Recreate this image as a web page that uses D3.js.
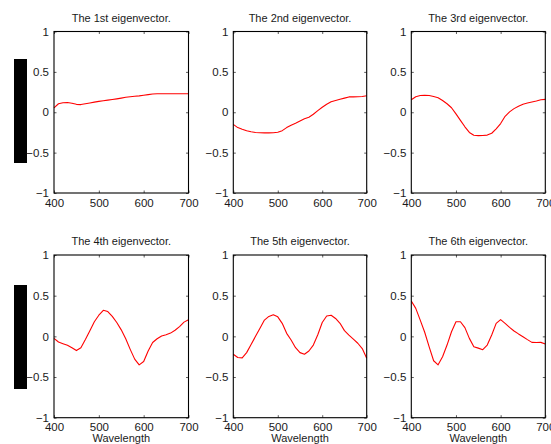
<!DOCTYPE html>
<html>
<head>
<meta charset="utf-8">
<script src="https://cdn.jsdelivr.net/npm/d3@7"></script>
<style>
  html, body { margin: 0; padding: 0; background: #fff; }
  svg { display: block; }
  text { font-family: "Liberation Sans", Arial, Helvetica, sans-serif; fill: #1a1a1a; }
</style>
</head>
<body>
<svg id="chart" width="551" height="444"></svg>
<script>
// Wavelength grid (nm), sampled every 10 nm
const wavelengths = [400,410,420,430,440,450,460,470,480,490,500,510,520,530,540,550,
                     560,570,580,590,600,610,620,630,640,650,660,670,680,690,700];

// Eigenvector components at each wavelength
const ev1 = [0.055,0.105,0.118,0.12,0.112,0.098,0.095,0.105,0.115,0.125,0.135,0.142,0.15,0.158,0.166,0.175,
             0.185,0.192,0.198,0.203,0.21,0.218,0.226,0.229,0.229,0.229,0.229,0.229,0.229,0.229,0.229];
const ev2 = [-0.15,-0.19,-0.21,-0.228,-0.242,-0.25,-0.254,-0.255,-0.255,-0.254,-0.248,-0.228,-0.19,-0.16,-0.135,-0.108,
             -0.08,-0.062,-0.025,0.02,0.062,0.1,0.13,0.145,0.16,0.175,0.19,0.19,0.192,0.195,0.205];
const ev3 = [0.155,0.192,0.208,0.21,0.208,0.195,0.18,0.145,0.105,0.056,-0.02,-0.1,-0.18,-0.25,-0.285,-0.29,
             -0.287,-0.283,-0.26,-0.205,-0.14,-0.05,0.005,0.045,0.075,0.1,0.115,0.128,0.14,0.155,0.16];
const ev4 = [-0.025,-0.07,-0.09,-0.11,-0.14,-0.175,-0.14,-0.04,0.07,0.18,0.26,0.32,0.305,0.245,0.17,0.08,
             -0.03,-0.16,-0.28,-0.35,-0.31,-0.18,-0.075,-0.03,0.005,0.02,0.04,0.075,0.12,0.175,0.205];
const ev5 = [-0.22,-0.26,-0.265,-0.2,-0.1,0.0,0.1,0.2,0.245,0.265,0.24,0.16,0.037,-0.045,-0.14,-0.2,
             -0.22,-0.18,-0.107,0.02,0.17,0.25,0.26,0.22,0.16,0.07,0.015,-0.035,-0.085,-0.15,-0.27];
const ev6 = [0.434,0.344,0.2,0.05,-0.13,-0.3,-0.35,-0.25,-0.107,0.057,0.18,0.18,0.107,-0.025,-0.127,-0.145,
             -0.164,-0.107,0.016,0.16,0.205,0.16,0.11,0.066,0.03,-0.004,-0.04,-0.074,-0.075,-0.074,-0.094];

const titles = ["The 1st eigenvector.","The 2nd eigenvector.","The 3rd eigenvector.",
                "The 4th eigenvector.","The 5th eigenvector.","The 6th eigenvector."];
const seriesList = [ev1, ev2, ev3, ev4, ev5, ev6];

const xTicks = [400, 500, 600, 700];
const yTicks = [-1, -0.5, 0, 0.5, 1];

// Panel frames [left, right] per column and [top, bottom] per row
const cols = [[54, 188.5], [233.3, 366.7], [411.3, 545.3]];
const rows = [[31.5, 193], [255, 417.7]];

const svg = d3.select("#chart");

// Black blocks to the left of each row
rows.forEach(([t, b], r) => {
  svg.append("rect")
    .attr("x", 14).attr("y", r === 0 ? 59 : 285)
    .attr("width", 13).attr("height", 104)
    .attr("fill", "#000");
});

seriesList.forEach((vals, i) => {
  const r = Math.floor(i / 3), c = i % 3;
  const [x0, x1] = cols[c];
  const [y0, y1] = rows[r];

  const x = d3.scaleLinear().domain([400, 700]).range([x0, x1]);
  const y = d3.scaleLinear().domain([-1, 1]).range([y1, y0]);

  const g = svg.append("g");

  // Bottom axis with labels, inward ticks
  const bottom = g.append("g").attr("transform", `translate(0,${y1})`)
    .call(d3.axisBottom(x).tickValues(xTicks).tickFormat(d3.format("d"))
      .tickSizeInner(-2.5).tickSizeOuter(0).tickPadding(5.5));
  // Left axis with labels
  const left = g.append("g").attr("transform", `translate(${x0},0)`)
    .call(d3.axisLeft(y).tickValues(yTicks).tickFormat(d => d3.format("")(d))
      .tickSizeInner(-2.5).tickSizeOuter(0).tickPadding(5));
  // Top and right axes: ticks only
  const top = g.append("g").attr("transform", `translate(0,${y0})`)
    .call(d3.axisTop(x).tickValues(xTicks).tickFormat("")
      .tickSizeInner(-2.5).tickSizeOuter(0));
  const right = g.append("g").attr("transform", `translate(${x1},0)`)
    .call(d3.axisRight(y).tickValues(yTicks).tickFormat("")
      .tickSizeInner(-2.5).tickSizeOuter(0));

  [bottom, left, top, right].forEach(a => {
    a.select(".domain").remove();
    a.selectAll(".tick line").attr("stroke", "#333").attr("stroke-width", 0.8);
    a.selectAll("text").attr("font-size", 11.5)
      .attr("font-family", "'Liberation Sans', Arial, sans-serif").attr("fill", "#1a1a1a");
  });

  // Data line
  const line = d3.line().x((d, k) => x(wavelengths[k])).y(d => y(d));
  g.append("path").datum(vals)
    .attr("d", line)
    .attr("fill", "none")
    .attr("stroke", "#ff0000")
    .attr("stroke-width", 1.1)
    .attr("stroke-linejoin", "round");

  // Frame
  g.append("rect")
    .attr("x", x0).attr("y", y0)
    .attr("width", x1 - x0).attr("height", y1 - y0)
    .attr("fill", "none").attr("stroke", "#000").attr("stroke-width", 1.1);

  // Title
  g.append("text")
    .attr("x", (x0 + x1) / 2).attr("y", y0 - 10)
    .attr("text-anchor", "middle").attr("font-size", 11)
    .text(titles[i]);

  // X-axis label on the bottom row
  if (r === 1) {
    g.append("text")
      .attr("x", (x0 + x1) / 2).attr("y", 441.5)
      .attr("text-anchor", "middle").attr("font-size", 11)
      .text("Wavelength");
  }
});
</script>
</body>
</html>
